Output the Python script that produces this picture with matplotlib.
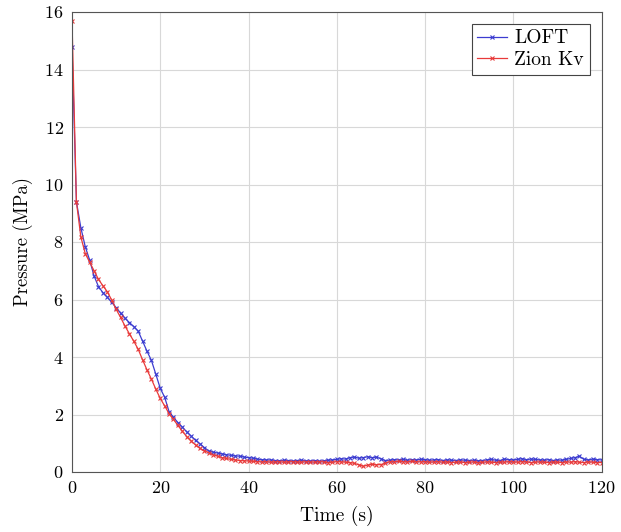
import matplotlib.pyplot as plt

plt.rcParams['font.family'] = 'cmr10'
plt.rcParams['mathtext.fontset'] = 'cm'
plt.rcParams['axes.formatter.use_mathtext'] = True

time_s = list(range(0, 121))

loft = [14.8, 9.4, 8.5, 7.84, 7.37, 6.82, 6.45, 6.24, 6.08, 5.9,
        5.72, 5.53, 5.35, 5.2, 5.06, 4.9, 4.55, 4.2, 3.88, 3.4,
        2.91, 2.6, 2.1, 1.9, 1.72, 1.56, 1.4, 1.25, 1.1, 0.98,
        0.85, 0.73, 0.69, 0.66, 0.63, 0.6, 0.58, 0.56, 0.55, 0.52,
        0.5, 0.48, 0.45, 0.43, 0.42, 0.42, 0.4, 0.39, 0.41, 0.4,
        0.38, 0.4, 0.41, 0.39, 0.38, 0.4, 0.37, 0.39, 0.41, 0.42,
        0.44, 0.46, 0.45, 0.5, 0.52, 0.48, 0.5, 0.53, 0.5, 0.52,
        0.46, 0.4, 0.41, 0.43, 0.42, 0.44, 0.41, 0.43, 0.42, 0.44,
        0.43, 0.41, 0.42, 0.43, 0.4, 0.42, 0.41, 0.4, 0.42, 0.41,
        0.4, 0.41, 0.39, 0.4, 0.42, 0.44, 0.41, 0.4, 0.45, 0.43,
        0.42, 0.44, 0.46, 0.43, 0.45, 0.44, 0.42, 0.41, 0.43, 0.4,
        0.42, 0.41, 0.44, 0.47, 0.5, 0.55, 0.44, 0.42, 0.45, 0.43,
        0.42]

zion = [15.7, 9.4, 8.18, 7.6, 7.3, 7.0, 6.7, 6.48, 6.27, 5.98,
        5.66, 5.38, 5.08, 4.81, 4.55, 4.27, 3.9, 3.55, 3.23, 2.88,
        2.56, 2.3, 2.03, 1.83, 1.62, 1.42, 1.23, 1.08, 0.94, 0.82,
        0.74, 0.67, 0.6, 0.55, 0.5, 0.47, 0.44, 0.42, 0.4, 0.39,
        0.38, 0.37, 0.36, 0.35, 0.36, 0.34, 0.35, 0.36, 0.34, 0.35,
        0.36, 0.35, 0.34, 0.36, 0.35, 0.34, 0.36, 0.35, 0.33, 0.34,
        0.36, 0.35, 0.34, 0.33, 0.3, 0.25, 0.2, 0.24, 0.27, 0.25,
        0.26, 0.3, 0.36, 0.35, 0.37, 0.36, 0.35, 0.37, 0.36, 0.35,
        0.36, 0.34, 0.35, 0.36, 0.34, 0.35, 0.33, 0.34, 0.35, 0.33,
        0.34, 0.35, 0.33, 0.34, 0.35, 0.34, 0.33, 0.35, 0.34, 0.36,
        0.35, 0.34, 0.36, 0.35, 0.33, 0.34, 0.35, 0.34, 0.33, 0.35,
        0.34, 0.33, 0.35, 0.34, 0.36, 0.34, 0.33, 0.35, 0.34, 0.33,
        0.33]

fig = plt.figure(figsize=(6.21, 5.32), dpi=100)
ax = fig.add_axes([72 / 621, 60 / 532, 529.5 / 621, 460 / 532])

ax.plot(time_s, loft, color='#3c3cd0', lw=0.9, marker='x', ms=3.5, mew=0.8, label='LOFT')
ax.plot(time_s, zion, color='#e83a3a', lw=0.9, marker='x', ms=3.5, mew=0.8, label='Zion Kv')

ax.set_xlim(0, 120)
ax.set_ylim(0, 16)
ax.set_xticks(range(0, 121, 20))
ax.set_yticks(range(0, 17, 2))
ax.grid(True, color='#d8d8d8', lw=0.8)
ax.set_axisbelow(True)
ax.tick_params(length=0, labelsize=13, pad=6)
for s in ax.spines.values():
    s.set_color('#555555')
    s.set_linewidth(0.8)

ax.set_xlabel('Time (s)', fontsize=14, labelpad=7)
ax.set_ylabel('Pressure (MPa)', fontsize=13.5, labelpad=8)

leg = ax.legend(loc='upper right', fontsize=14, fancybox=False, framealpha=1,
                edgecolor='#444444', handlelength=1.5, handletextpad=0.4,
                borderpad=0.3, labelspacing=0.2, borderaxespad=0.6)
leg.get_frame().set_linewidth(0.8)

fig.savefig('out.png', dpi=100)
